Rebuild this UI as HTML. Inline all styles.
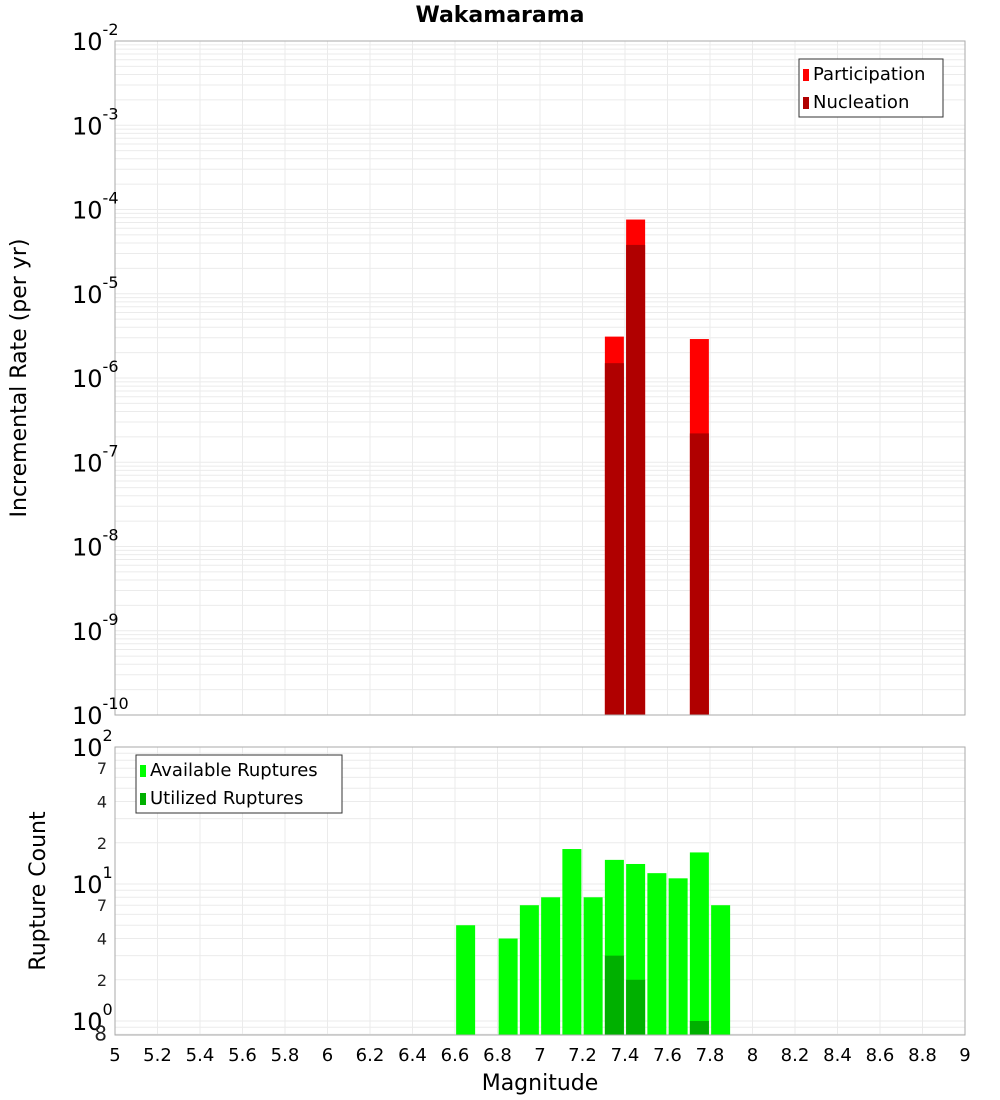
<!DOCTYPE html>
<html><head><meta charset="utf-8"><style>
body{margin:0;background:#fff;}
svg{display:block;font-family:"DejaVu Sans","Liberation Sans",sans-serif;}
</style></head><body>
<svg id="c" width="1000" height="1100" xmlns="http://www.w3.org/2000/svg"></svg>
<script>
const magnitudes = [7.35, 7.45, 7.75];
const participation = [3.1e-6, 7.6e-5, 2.9e-6];
const nucleation = [1.5e-6, 3.8e-5, 2.2e-7];
const countMags = [6.65, 6.85, 6.95, 7.05, 7.15, 7.25, 7.35, 7.45, 7.55, 7.65, 7.75, 7.85];
const available = [5, 4, 7, 8, 18, 8, 15, 14, 12, 11, 17, 7];
const utilMags = [7.35, 7.45, 7.75];
const utilized = [3, 2, 1];
const xTicks = [5,5.2,5.4,5.6,5.8,6,6.2,6.4,6.6,6.8,7,7.2,7.4,7.6,7.8,8,8.2,8.4,8.6,8.8,9];
const topExps = [-2,-3,-4,-5,-6,-7,-8,-9,-10];

const NS="http://www.w3.org/2000/svg";
const svg=document.getElementById('c');
function mk(tag,attrs,parent){const e=document.createElementNS(NS,tag);for(const k in attrs)e.setAttribute(k,attrs[k]);(parent||svg).appendChild(e);return e;}
const L=115,R=965;
const X=m=>L+(m-5)/(4)*(R-L);
const T0=41,T1=715;
const Yt=v=>T0+(-2-Math.log10(v))*(T1-T0)/8;
const B0=747,B1=1035;
const decB=137;
const Yb=v=>B0+(2-Math.log10(v))*decB;

// frames bg + grid
function grid(top,bot,yf,lo,hi){
  const g=mk('g',{});
  
  
  xTicks.forEach(t=>{mk('line',{x1:X(t),x2:X(t),y1:top,y2:bot,stroke:'#ebebeb','stroke-width':1},g);});
  for(let e=lo;e<hi;e++){for(let k=1;k<10;k++){const v=k*Math.pow(10,e);const y=yf(v);if(y<top-0.5||y>bot+0.5)continue;mk('line',{x1:L,x2:R,y1:y,y2:y,stroke:'#ebebeb','stroke-width':1},g);}}
}
grid(T0,T1,Yt,-10,-1);
grid(B0,B1,Yb,-1,2);

// top bars
const w=19;
magnitudes.forEach((m,i)=>{
  const p=mk('rect',{x:X(m)-w/2,y:Yt(participation[i]),width:w,height:T1-Yt(participation[i]),fill:'#ff0000'});
  
  
  const n=mk('rect',{x:X(m)-w/2,y:Yt(nucleation[i]),width:w,height:T1-Yt(nucleation[i]),fill:'#b00000'});
  
  
});
// bottom bars
countMags.forEach((m,i)=>{
  const r=mk('rect',{x:X(m)-w/2,y:Yb(available[i]),width:w,height:B1-Yb(available[i]),fill:'#00ff00'});
  
  
});
utilMags.forEach((m,i)=>{
  const r=mk('rect',{x:X(m)-w/2,y:Yb(utilized[i]),width:w,height:B1-Yb(utilized[i]),fill:'#00b000'});
  
  
});
// frames
const f1=mk('rect',{x:L,y:T0,width:R-L,height:T1-T0,fill:'none',stroke:'#aaa'});


const f2=mk('rect',{x:L,y:B0,width:R-L,height:B1-B0,fill:'none',stroke:'#aaa'});



// top y labels
topExps.forEach(e=>{
  const y=Yt(Math.pow(10,e));
  const t=mk('text',{x:72,y:y+9,'font-size':24,fill:'#000'});
  
  
  t.textContent='10';
  const s=mk('tspan',{dy:-15,'font-size':16},t);s.textContent=String(e);
});
// bottom y labels
[[100,'2'],[10,'1'],[1,'0']].forEach(([v,e])=>{
  const y=Yb(v);
  const t=mk('text',{x:72,y:y+9,'font-size':24,fill:'#000'});
  
  
  t.textContent='10';
  const s=mk('tspan',{dy:-15,'font-size':16},t);s.textContent=e;
});
[70,40,20,7,4,2,0.8].forEach(v=>{
  const y=Yb(v);
  const t=mk('text',{x:107,y:y+6,'font-size':v==0.8?20:16,'text-anchor':'end',fill:'#222'});
  
  
  t.textContent=String(v<1?8:v<10?v:v/10);
});
// x ticks
xTicks.forEach(m=>{
  const t=mk('text',{x:X(m),y:1061,'font-size':18,'text-anchor':'middle',fill:'#000'});
  
  
  t.textContent=String(m);
});
// titles
const ti=mk('text',{x:500,y:22,'font-size':22,'font-weight':'bold','text-anchor':'middle'});


ti.textContent='Wakamarama';
const xt=mk('text',{x:540,y:1090,'font-size':22,'text-anchor':'middle'});


xt.textContent='Magnitude';
const yt1=mk('text',{x:0,y:0,'font-size':22,'text-anchor':'middle',transform:'translate(26,378) rotate(-90)'});


yt1.textContent='Incremental Rate (per yr)';
const yt2=mk('text',{x:0,y:0,'font-size':22,'text-anchor':'middle',transform:'translate(45,891) rotate(-90)'});


yt2.textContent='Rupture Count';

// legends
function legend(x,y,w,h,items,name){
  const g=mk('g',{});
  
  
  mk('rect',{x:x,y:y,width:w,height:h,fill:'#fff',stroke:'#333'},g);
  items.forEach((it,i)=>{
    mk('rect',{x:x+4,y:y+10+i*28,width:6,height:12,fill:it[1]},g);
    const t=mk('text',{x:x+14,y:y+21+i*28,'font-size':18},g);t.textContent=it[0];
  });
}
legend(799,59,144,58,[['Participation','#ff0000'],['Nucleation','#b00000']],'top-legend');
legend(136,755,206,58,[['Available Ruptures','#00ff00'],['Utilized Ruptures','#00b000']],'bottom-legend');
</script>
</body></html>
